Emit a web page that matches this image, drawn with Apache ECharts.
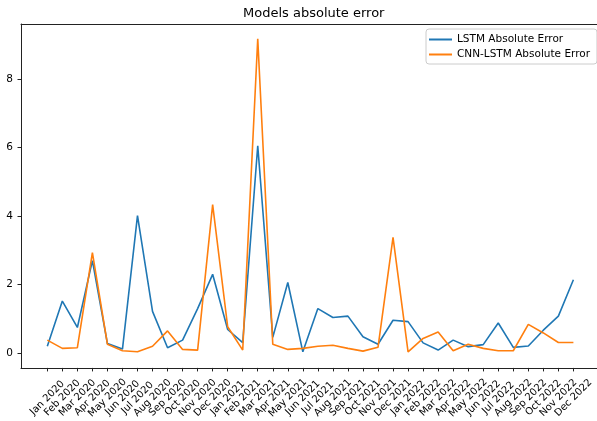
<!DOCTYPE html>
<html>
<head>
<meta charset="utf-8">
<script src="https://cdn.jsdelivr.net/npm/echarts@6/dist/echarts.min.js"></script>
<style>
    html, body { margin: 0; padding: 0; background: #fff; }
    #main { width: 597px; height: 421px; }
</style>
</head>
<body>
<div id="main"></div>
<script>
var months = ['Jan 2020', 'Feb 2020', 'Mar 2020', 'Apr 2020', 'May 2020', 'Jun 2020',
    'Jul 2020', 'Aug 2020', 'Sep 2020', 'Oct 2020', 'Nov 2020', 'Dec 2020',
    'Jan 2021', 'Feb 2021', 'Mar 2021', 'Apr 2021', 'May 2021', 'Jun 2021',
    'Jul 2021', 'Aug 2021', 'Sep 2021', 'Oct 2021', 'Nov 2021', 'Dec 2021',
    'Jan 2022', 'Feb 2022', 'Mar 2022', 'Apr 2022', 'May 2022', 'Jun 2022',
    'Jul 2022', 'Aug 2022', 'Sep 2022', 'Oct 2022', 'Nov 2022', 'Dec 2022'];

var lstmError = [0.20, 1.52, 0.75, 2.70, 0.28, 0.12, 4.01, 1.22, 0.16, 0.38, 1.30, 2.30,
    0.69, 0.31, 6.05, 0.46, 2.06, 0.04, 1.30, 1.04, 1.08, 0.48, 0.26, 0.96,
    0.92, 0.30, 0.09, 0.38, 0.19, 0.25, 0.88, 0.17, 0.21, 0.67, 1.08, 2.14];

var cnnLstmError = [0.38, 0.14, 0.16, 2.93, 0.26, 0.07, 0.04, 0.20, 0.65, 0.11, 0.09, 4.33,
    0.77, 0.09, 9.17, 0.26, 0.11, 0.14, 0.20, 0.23, 0.14, 0.06, 0.17, 3.38,
    0.04, 0.43, 0.62, 0.07, 0.26, 0.14, 0.07, 0.07, 0.84, 0.59, 0.31, 0.31];

var yTicks = [0, 2, 4, 6, 8];

var FONT = 'DejaVu Sans';
var AXIS_COLOR = '#222';
// plot runs past the right edge of the picture, so the x range is cut there
var X_MIN = -1.75, X_MAX = 36.57;

// index positions for the month ticks
var xTicks = months.map(function (m, i) { return i; });

function toPoints(arr) {
    return arr.map(function (v, i) { return [i, v]; });
}

var myChart = echarts.init(document.getElementById('main'));

var option = {
    animation: false,
    title: {
        text: 'Models absolute error',
        left: 243,
        top: 7,
        padding: 0,
        textStyle: { fontFamily: FONT, fontSize: 13, fontWeight: 'normal', color: '#000' }
    },
    legend: {
        orient: 'vertical',
        left: 426,
        top: 29,
        padding: [5, 7, 4, 3],
        itemGap: 4,
        itemWidth: 23,
        itemHeight: 2,
        itemTextGap: 7,
        icon: 'rect',
        borderColor: '#cccccc',
        borderWidth: 1,
        borderRadius: 3,
        backgroundColor: 'rgba(255,255,255,0.8)',
        textStyle: { fontFamily: FONT, fontSize: 10.5, color: '#000' },
        data: ['LSTM Absolute Error', 'CNN-LSTM Absolute Error']
    },
    grid: {
        left: 21,
        top: 24,
        bottom: 52,
        right: 0,
        show: false,
        containLabel: false
    },
    xAxis: [
        {
            type: 'value',
            min: X_MIN,
            max: X_MAX,
            axisLine: { show: true, onZero: false, lineStyle: { color: AXIS_COLOR, width: 1 } },
            splitLine: { show: false },
            axisTick: {
                show: true,
                customValues: xTicks,
                length: 3.5,
                lineStyle: { color: AXIS_COLOR }
            },
            axisLabel: {
                customValues: xTicks,
                rotate: 45,
                align: 'center',
                verticalAlign: 'middle',
                margin: 30,
                fontFamily: FONT,
                fontSize: 10,
                color: '#000',
                formatter: function (v) { return months[v] || ''; }
            }
        },
        {
            // top spine only
            type: 'value',
            position: 'top',
            min: X_MIN,
            max: X_MAX,
            axisLine: { show: true, onZero: false, lineStyle: { color: AXIS_COLOR, width: 1 } },
            axisTick: { show: false },
            axisLabel: { show: false },
            splitLine: { show: false }
        }
    ],
    yAxis: {
        type: 'value',
        min: -0.43,
        max: 9.6,
        axisLine: { show: true, onZero: false, lineStyle: { color: AXIS_COLOR, width: 1 } },
        splitLine: { show: false },
        axisTick: {
            show: true,
            customValues: yTicks,
            length: 3.5,
            lineStyle: { color: AXIS_COLOR }
        },
        axisLabel: {
            customValues: yTicks,
            margin: 8,
            fontFamily: FONT,
            fontSize: 10.5,
            color: '#000'
        }
    },
    series: [
        {
            name: 'LSTM Absolute Error',
            type: 'line',
            data: toPoints(lstmError),
            symbol: 'none',
            color: '#1f77b4',
            lineStyle: { width: 1.6, color: '#1f77b4' }
        },
        {
            name: 'CNN-LSTM Absolute Error',
            type: 'line',
            data: toPoints(cnnLstmError),
            symbol: 'none',
            color: '#ff7f0e',
            lineStyle: { width: 1.6, color: '#ff7f0e' }
        }
    ]
};

myChart.setOption(option);
</script>
</body>
</html>
